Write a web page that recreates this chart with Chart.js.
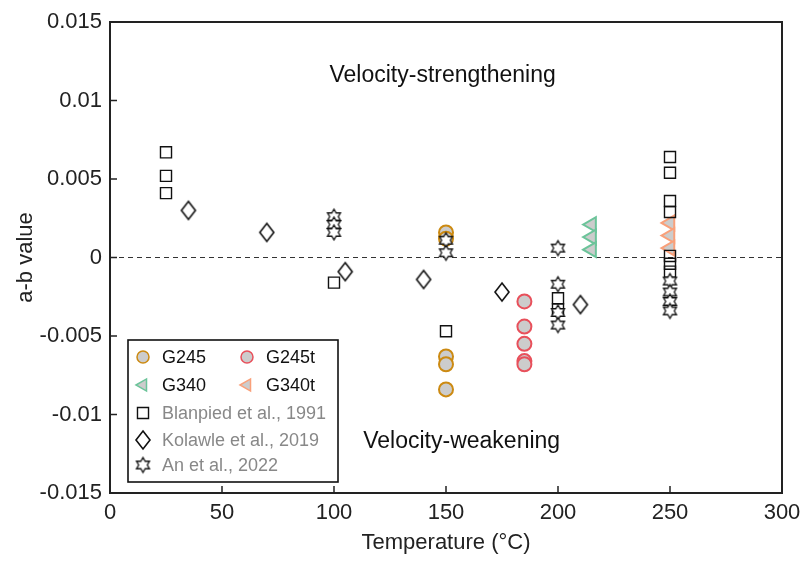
<!DOCTYPE html>
<html>
<head>
<meta charset="utf-8">
<script src="https://cdn.jsdelivr.net/npm/chart.js@4/dist/chart.umd.min.js"></script>
<style>
  html, body { margin: 0; padding: 0; background: #fff; }
  #wrap { width: 810px; height: 562px; }
</style>
</head>
<body>
<div id="wrap"><canvas id="chart" width="810" height="562"></canvas></div>
<script>
// ─── DATA ────────────────────────────────────────────────────────────────────
const X_TICKS = [0, 50, 100, 150, 200, 250, 300];
const Y_TICKS = [-0.015, -0.01, -0.005, 0, 0.005, 0.01, 0.015];

const G245_T = [150, 150, 150, 150, 150];
const G245_V = [0.0016, 0.0012, -0.0063, -0.0068, -0.0084];

const G245T_T = [185, 185, 185, 185, 185];
const G245T_V = [-0.0028, -0.0044, -0.0055, -0.0066, -0.0068];

const G340_T = [215, 215, 215];
const G340_V = [0.0021, 0.0013, 0.0005];

const G340T_T = [250, 250, 250];
const G340T_V = [0.0022, 0.0014, 0.0006];

const BLANPIED_T = [25, 25, 25, 100, 150, 200, 200, 250, 250, 250, 250, 250, 250, 250];
const BLANPIED_V = [0.0067, 0.0052, 0.0041, -0.0016, -0.0047, -0.0026, -0.0033,
                    0.0064, 0.0054, 0.0036, 0.0029, 0.0001, -0.0004, -0.0009];

const KOLAWLE_T = [35, 70, 105, 140, 175, 210];
const KOLAWLE_V = [0.003, 0.0016, -0.0009, -0.0014, -0.0022, -0.003];

const AN_T = [100, 100, 100, 150, 150, 200, 200, 200, 200, 250, 250, 250, 250];
const AN_V = [0.0026, 0.0021, 0.0016, 0.0011, 0.0003, 0.0006, -0.0017, -0.0035, -0.0043,
              -0.0015, -0.0022, -0.0028, -0.0034];

const FONT = "'Liberation Sans', Arial, sans-serif";
const FILL_GRAY = '#cccccc';
const C_G245  = '#cc8a12';
const C_G245T = '#e8505b';
const C_G340  = '#6cc49a';
const C_G340T = '#f9a07a';

// ─── CUSTOM MARKERS ──────────────────────────────────────────────────────────
function makeHexagram(R) {
  const s = Math.ceil(R * 2 + 4);
  const c = document.createElement('canvas');
  c.width = s; c.height = s;
  const g = c.getContext('2d');
  const cx = s / 2, cy = s / 2, r = R / Math.sqrt(3);
  g.beginPath();
  for (let i = 0; i < 12; i++) {
    const a = -Math.PI / 2 + i * Math.PI / 6;
    const rr = i % 2 === 0 ? R : r;
    const px = cx + rr * Math.cos(a), py = cy + rr * Math.sin(a);
    i === 0 ? g.moveTo(px, py) : g.lineTo(px, py);
  }
  g.closePath();
  g.fillStyle = '#fff';
  g.fill();
  g.lineWidth = 1.3;
  g.strokeStyle = '#111';
  g.stroke();
  return c;
}

function makeDiamond(w, h) {
  const c = document.createElement('canvas');
  c.width = w + 4; c.height = h + 4;
  const g = c.getContext('2d');
  const cx = c.width / 2, cy = c.height / 2;
  g.beginPath();
  g.moveTo(cx, cy - h / 2);
  g.lineTo(cx + w / 2, cy);
  g.lineTo(cx, cy + h / 2);
  g.lineTo(cx - w / 2, cy);
  g.closePath();
  g.lineWidth = 1.6;
  g.strokeStyle = '#111';
  g.stroke();
  return c;
}

const STAR = makeHexagram(7.5);
const DIAMOND = makeDiamond(14, 18);

function pts(xs, ys) {
  return xs.map((x, i) => ({ x, y: ys[i] }));
}

// ─── DATASETS ────────────────────────────────────────────────────────────────
const datasets = [
  {
    label: 'An et al., 2022', data: pts(AN_T, AN_V), order: 0,
    pointStyle: STAR, pointRadius: 8,
  },
  {
    label: 'Blanpied et al., 1991', data: pts(BLANPIED_T, BLANPIED_V), order: 1,
    pointStyle: 'rect', pointRadius: 7.8, backgroundColor: 'rgba(255,255,255,0)',
    borderColor: '#111', borderWidth: 1.4,
  },
  {
    label: 'Kolawle et al., 2019', data: pts(KOLAWLE_T, KOLAWLE_V), order: 2,
    pointStyle: DIAMOND, pointRadius: 9,
  },
  {
    label: 'G245', data: pts(G245_T, G245_V), order: 3,
    pointStyle: 'circle', pointRadius: 7, backgroundColor: FILL_GRAY,
    borderColor: C_G245, borderWidth: 2,
  },
  {
    label: 'G245t', data: pts(G245T_T, G245T_V), order: 4,
    pointStyle: 'circle', pointRadius: 7, backgroundColor: FILL_GRAY,
    borderColor: C_G245T, borderWidth: 2,
  },
  {
    label: 'G340', data: pts(G340_T, G340_V), order: 5,
    pointStyle: 'triangle', rotation: -90, pointRadius: 8.5, backgroundColor: FILL_GRAY,
    borderColor: C_G340, borderWidth: 2,
  },
  {
    label: 'G340t', data: pts(G340T_T, G340T_V), order: 6,
    pointStyle: 'triangle', rotation: -90, pointRadius: 8.5, backgroundColor: FILL_GRAY,
    borderColor: C_G340T, borderWidth: 2,
  },
];

// ─── PLUGIN: box, inward ticks, zero line, annotations, legend ──────────────
const decorations = {
  id: 'decorations',
  beforeDatasetsDraw(chart) {
    const { ctx, chartArea: a, scales: { x, y } } = chart;
    ctx.save();
    // dashed zero line
    ctx.setLineDash([5, 4]);
    ctx.strokeStyle = '#333';
    ctx.lineWidth = 1.2;
    ctx.beginPath();
    ctx.moveTo(a.left, y.getPixelForValue(0));
    ctx.lineTo(a.right, y.getPixelForValue(0));
    ctx.stroke();
    ctx.setLineDash([]);
    // annotations
    ctx.fillStyle = '#111';
    ctx.font = `23px ${FONT}`;
    ctx.textAlign = 'center';
    ctx.textBaseline = 'middle';
    ctx.fillText('Velocity-strengthening', x.getPixelForValue(148.5), y.getPixelForValue(0.0116));
    ctx.fillText('Velocity-weakening', x.getPixelForValue(157), y.getPixelForValue(-0.0117));
    ctx.restore();
  },
  afterDraw(chart) {
    const { ctx, chartArea: a, scales: { x, y } } = chart;
    ctx.save();
    ctx.strokeStyle = '#222';
    ctx.lineWidth = 2;
    ctx.strokeRect(a.left, a.top, a.right - a.left, a.bottom - a.top);
    ctx.lineWidth = 1.5;
    ctx.beginPath();
    X_TICKS.forEach(v => {
      const px = x.getPixelForValue(v);
      ctx.moveTo(px, a.bottom); ctx.lineTo(px, a.bottom - 7);
    });
    Y_TICKS.forEach(v => {
      const py = y.getPixelForValue(v);
      ctx.moveTo(a.left, py); ctx.lineTo(a.left + 7, py);
    });
    ctx.stroke();

    // legend
    const L = a.left + 18, T = 340, W = 210, H = 142;
    ctx.fillStyle = '#fff';
    ctx.fillRect(L, T, W, H);
    ctx.lineWidth = 1.6;
    ctx.strokeStyle = '#111';
    ctx.strokeRect(L, T, W, H);

    const drawMarker = (ds, mx, my) => {
      let r = ds.pointRadius;
      if (ds.pointStyle === 'circle') r = 6;
      if (ds.pointStyle === 'triangle') r = 7;
      ctx.save();
      ctx.fillStyle = ds.backgroundColor || 'rgba(0,0,0,0)';
      ctx.strokeStyle = ds.borderColor || '#111';
      ctx.lineWidth = ds.borderWidth ? (ds.pointStyle === 'rect' ? 1.4 : 1.5) : 1;
      Chart.helpers.drawPoint(ctx, {
        pointStyle: ds.pointStyle, rotation: ds.rotation || 0,
        radius: r, borderWidth: ctx.lineWidth,
      }, mx, my);
      ctx.restore();
    };
    const byLabel = l => datasets.find(d => d.label === l);
    const rows = [
      [['G245', 0], ['G245t', 1]],
      [['G340', 0], ['G340t', 1]],
      [['Blanpied et al., 1991', 0]],
      [['Kolawle et al., 2019', 0]],
      [['An et al., 2022', 0]],
    ];
    const rowY = [357, 385, 413, 440, 465];
    ctx.font = `18px ${FONT}`;
    ctx.textAlign = 'left';
    ctx.textBaseline = 'middle';
    rows.forEach((row, ri) => {
      row.forEach(([lab, col]) => {
        const mx = col === 0 ? L + 15 : L + 119;
        const ds = byLabel(lab);
        drawMarker(ds, mx, rowY[ri]);
        ctx.fillStyle = ri < 2 ? '#111' : '#888';
        ctx.fillText(lab, mx + 19, rowY[ri] + 1);
      });
    });
    ctx.restore();
  }
};

// ─── CHART ───────────────────────────────────────────────────────────────────
new Chart(document.getElementById('chart').getContext('2d'), {
  type: 'scatter',
  data: { datasets },
  plugins: [decorations],
  options: {
    responsive: false,
    animation: false,
    layout: { padding: { top: 22, right: 28, left: 0, bottom: 0 } },
    plugins: { legend: { display: false }, tooltip: { enabled: false } },
    scales: {
      x: {
        type: 'linear', min: 0, max: 300,
        afterBuildTicks: s => { s.ticks = X_TICKS.map(v => ({ value: v })); },
        afterFit: s => { s.height = 69; },
        grid: { display: false, drawTicks: false },
        border: { display: false },
        ticks: { color: '#222', font: { family: FONT, size: 22 }, padding: 7 },
        title: {
          display: true, text: 'Temperature (°C)', color: '#222',
          font: { family: FONT, size: 22 }, padding: { top: 0, bottom: 6 },
        },
      },
      y: {
        type: 'linear', min: -0.015, max: 0.015,
        afterBuildTicks: s => { s.ticks = Y_TICKS.map(v => ({ value: v })); },
        afterFit: s => { s.width = 110; },
        grid: { display: false, drawTicks: false },
        border: { display: false },
        ticks: {
          color: '#222', font: { family: FONT, size: 22 }, padding: 8,
          callback: v => String(Math.round(v * 1000) / 1000),
        },
        title: {
          display: true, text: 'a-b value', color: '#222',
          font: { family: FONT, size: 22 }, padding: { top: 13, bottom: 0 },
        },
      },
    },
  },
});
</script>
</body>
</html>
